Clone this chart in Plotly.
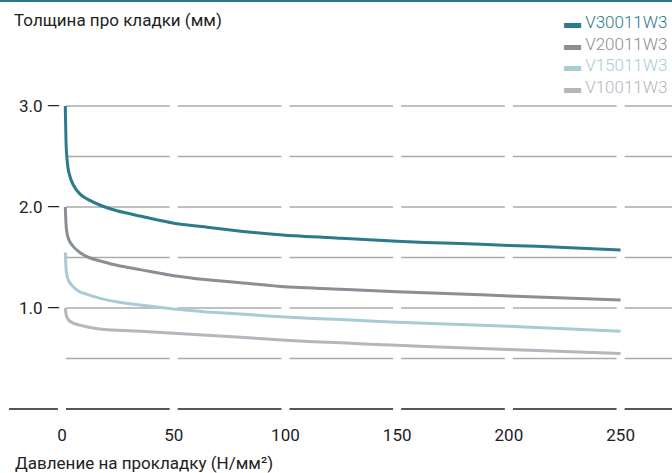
import plotly.graph_objects as go

# ---- data ----
pressure = [1.5, 2, 3, 5, 8, 12, 18, 25, 35, 50, 65, 80, 100, 125, 150, 175, 200, 225, 250]
v300 = [3.0, 2.55, 2.35, 2.22, 2.13, 2.07, 2.01, 1.96, 1.91, 1.84, 1.80, 1.76, 1.72, 1.69, 1.66, 1.64, 1.62, 1.60, 1.575]
v200 = [2.0, 1.78, 1.68, 1.61, 1.55, 1.50, 1.46, 1.42, 1.38, 1.32, 1.28, 1.25, 1.21, 1.185, 1.16, 1.14, 1.12, 1.10, 1.08]
v150 = [1.55, 1.35, 1.27, 1.21, 1.16, 1.13, 1.09, 1.06, 1.03, 0.99, 0.96, 0.94, 0.91, 0.885, 0.86, 0.84, 0.82, 0.795, 0.77]
v100 = [1.0, 0.92, 0.88, 0.85, 0.83, 0.81, 0.79, 0.78, 0.77, 0.75, 0.73, 0.71, 0.68, 0.655, 0.63, 0.61, 0.59, 0.57, 0.55]

series_names = ["V30011W3", "V20011W3", "V15011W3", "V10011W3"]
series_values = [v300, v200, v150, v100]
series_colors = ["#2b7b8b", "#8b8e95", "#a8ccd6", "#b6b6be"]

x_ticks = [0, 50, 100, 150, 200, 250]
y_ticks = [1.0, 2.0, 3.0]
y_grid = [0.5, 1.0, 1.5, 2.0, 2.5, 3.0]

y_title = "Толщина про кладки (мм)"
x_title = "Давление на прокладку (Н/мм²)"

FONT = "Roboto"
TXT = "#222222"

W, H = 672, 473
ML, MR, MT, MB = 9, 0, 40, 58
PW, PH = W - ML - MR, H - MT - MB

X_RANGE = [-23.7, 273.0]
Y_RANGE = [-0.0594, 3.6535]

fig = go.Figure()
for name, vals, col in zip(series_names, series_values, series_colors):
    fig.add_trace(go.Scatter(x=pressure, y=vals, name=name, mode="lines",
                             line=dict(color=col, width=3, shape="spline", smoothing=0.6),
                             showlegend=False, hoverinfo="skip"))

# segmented grid lines (gaps at the x tick positions)
gap = 1.8
edges = [X_RANGE[0]] + x_ticks + [X_RANGE[1]]
shapes = []
for gy in [0.0] + y_grid:
    is_base = gy == 0.0
    for a, b in zip(edges[:-1], edges[1:]):
        if a == X_RANGE[0] and not is_base:
            continue
        x0 = a if a == X_RANGE[0] else a + gap
        x1 = b if b == X_RANGE[1] else b - gap
        shapes.append(dict(type="line", xref="x", yref="y", x0=x0, x1=x1, y0=gy, y1=gy,
                           line=dict(color="#1e1e1e" if is_base else "#ababab", width=1.6),
                           layer="below"))
# top teal rule across the full page width
top_y = 1 + (MT - 1) / PH
shapes.append(dict(type="line", xref="paper", yref="paper", x0=-ML / PW, x1=1.0,
                   y0=top_y, y1=top_y, line=dict(color="#2b7b8b", width=2)))

annotations = [
    dict(text=y_title, xref="paper", yref="paper", x=0, xshift=3, y=1, yshift=20,
         xanchor="left", yanchor="middle", showarrow=False,
         font=dict(family=FONT, size=17, color=TXT)),
    dict(text=x_title, xref="paper", yref="paper", x=0, xshift=4, y=0, yshift=-48,
         xanchor="left", yanchor="middle", showarrow=False,
         font=dict(family=FONT, size=17, color=TXT)),
]
# legend (text + short coloured dash)
for i, (name, col) in enumerate(zip(series_names, series_colors)):
    annotations.append(dict(text=f"▬ {name}",
                            xref="paper", yref="paper", x=1, xshift=-3,
                            y=1, yshift=18 - 21.7 * i,
                            xanchor="right", yanchor="middle", showarrow=False,
                            font=dict(family=FONT, size=17, color=col, weight=300)))

fig.update_layout(
    width=W, height=H,
    margin=dict(l=ML, r=MR, t=MT, b=MB),
    paper_bgcolor="white", plot_bgcolor="white",
    showlegend=False,
    shapes=shapes, annotations=annotations,
    xaxis=dict(range=X_RANGE, tickvals=x_ticks, ticktext=[str(v) for v in x_ticks],
               showgrid=False, zeroline=False, showline=False, ticks="",
               ticklabelstandoff=8,
               tickfont=dict(family=FONT, size=17, color=TXT)),
    yaxis=dict(range=Y_RANGE, tickvals=y_ticks,
               ticktext=[f"{v:.1f} —" for v in y_ticks],
               showgrid=False, zeroline=False, showline=False, ticks="",
               ticklabelposition="inside", ticklabelstandoff=7,
               tickfont=dict(family=FONT, size=17, color=TXT)),
)

fig.write_html("out.html", config={"displayModeBar": False},
               post_script="document.body.style.margin='0px';")
